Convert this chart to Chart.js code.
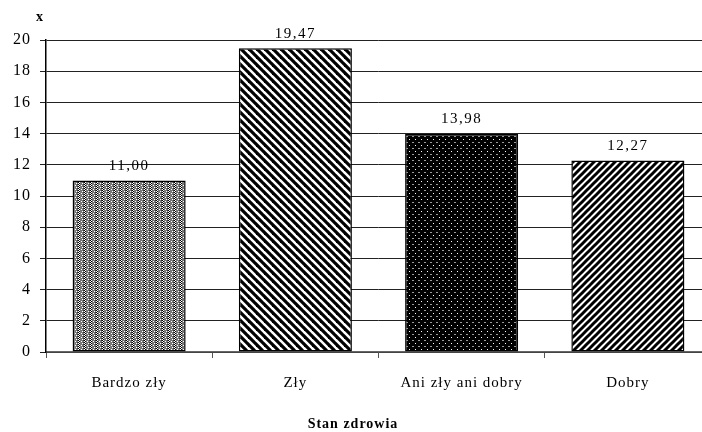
<!DOCTYPE html>
<html><head><meta charset="utf-8">
<script src="https://cdn.jsdelivr.net/npm/chart.js@4"></script>
<style>
html,body{margin:0;padding:0;background:#fff;overflow:hidden;width:702px;height:432px;}
#wrap{position:absolute;left:0;top:0;width:711px;height:432px;}
</style></head><body>
<div id="wrap"><canvas id="c" width="711" height="432"></canvas></div>
<script>
const categories = ['Bardzo zły', 'Zły', 'Ani zły ani dobry', 'Dobry'];
const values = [11.00, 19.47, 13.98, 12.27];
const valueLabels = ['11,00', '19,47', '13,98', '12,27'];
const yTicks = [0, 2, 4, 6, 8, 10, 12, 14, 16, 18, 20];
const xTitle = 'Stan zdrowia';
const yTitle = 'x';

function makePattern(w, h, draw) {
  const c = document.createElement('canvas');
  c.width = w; c.height = h;
  const g = c.getContext('2d');
  draw(g, w, h);
  return document.getElementById('c').getContext('2d').createPattern(c, 'repeat');
}
const pCheck = makePattern(6, 4, (g) => {
  g.fillStyle = '#7a7a7a'; g.fillRect(0, 0, 6, 4);
  g.fillStyle = '#000000';
  g.fillRect(0, 0, 1, 1); g.fillRect(1, 1, 1, 1); g.fillRect(0, 2, 1, 1); g.fillRect(1, 3, 1, 1);
  g.fillStyle = '#ffffff';
  g.fillRect(1, 0, 1, 1); g.fillRect(0, 1, 1, 1); g.fillRect(1, 2, 1, 1); g.fillRect(0, 3, 1, 1);
  g.fillRect(3, 1, 1, 1); g.fillRect(4, 3, 1, 1);
  g.fillStyle = '#3a3a3a';
  g.fillRect(5, 0, 1, 1); g.fillRect(5, 2, 1, 1);
});
const pBack = makePattern(8, 8, (g) => {
  g.fillStyle = '#fff'; g.fillRect(0, 0, 8, 8);
  g.strokeStyle = '#000'; g.lineWidth = 3.2;
  for (let k = -2; k <= 2; k++) {
    g.beginPath(); g.moveTo(k * 8 - 2, -2); g.lineTo(k * 8 + 10, 10); g.stroke();
  }
});
const pDots = makePattern(6, 6, (g) => {
  g.fillStyle = '#000'; g.fillRect(0, 0, 6, 6);
  g.fillStyle = '#ffffff'; g.fillRect(1, 1, 1, 1);
  g.fillStyle = '#9a9a9a'; g.fillRect(4, 4, 2, 1);
});
const pFwd = makePattern(7, 7, (g) => {
  g.fillStyle = '#fff'; g.fillRect(0, 0, 7, 7);
  g.strokeStyle = '#000'; g.lineWidth = 3;
  for (let k = -2; k <= 2; k++) {
    g.beginPath(); g.moveTo(k * 7 - 2, 9); g.lineTo(k * 7 + 9, -2); g.stroke();
  }
});

const FONT = "'Liberation Serif', 'Times New Roman', serif";

const textPlugin = {
  id: 'texts',
  beforeDraw(chart) { chart.ctx.letterSpacing = '1px'; },
  afterDatasetsDraw(chart) {
    const ctx = chart.ctx;
    const meta = chart.getDatasetMeta(0);
    ctx.save();
    ctx.letterSpacing = '1.5px';
    ctx.fillStyle = '#000';
    ctx.font = '15px ' + FONT;
    ctx.textAlign = 'center';
    ctx.textBaseline = 'bottom';
    meta.data.forEach((bar, i) => {
      ctx.fillText(valueLabels[i], bar.x, bar.y - 7);
    });
    ctx.letterSpacing = '1px';
    ctx.font = 'bold 14px ' + FONT;
    ctx.textBaseline = 'middle';
    ctx.fillText(xTitle, 353, 424);
    ctx.fillText(yTitle, 40, 17);
    ctx.restore();
  }
};

new Chart(document.getElementById('c'), {
  type: 'bar',
  data: {
    labels: categories,
    datasets: [{
      data: values,
      backgroundColor: [pCheck, pBack, pDots, pFwd],
      borderColor: '#000',
      borderWidth: 1.5,
      borderSkipped: false,
      categoryPercentage: 1.0,
      barPercentage: 0.68
    }]
  },
  options: {
    responsive: false,
    animation: false,
    devicePixelRatio: 1,
    layout: { padding: { top: 40, left: 0, right: 0, bottom: 0 } },
    plugins: { legend: { display: false }, tooltip: { enabled: false } },
    scales: {
      x: {
        offset: true,
        grid: { display: true, drawOnChartArea: false, drawTicks: true, tickLength: 6, color: '#555', offset: true },
        border: { display: true, color: '#666', width: 1.5 },
        ticks: { color: '#000', font: { family: FONT, size: 15 }, padding: 16, maxRotation: 0 },
        afterFit(s) { s.height = 80; }
      },
      y: {
        min: 0, max: 20,
        afterBuildTicks(s) { s.ticks = yTicks.map(v => ({ value: v })); },
        grid: { color: '#222', lineWidth: 1, drawTicks: true, tickLength: 6 },
        border: { display: true, color: '#000', width: 1.5 },
        ticks: { color: '#000', font: { family: FONT, size: 16 }, padding: 9 },
        afterFit(s) { s.width = 46; }
      }
    }
  },
  plugins: [textPlugin]
});
</script>
</body></html>
